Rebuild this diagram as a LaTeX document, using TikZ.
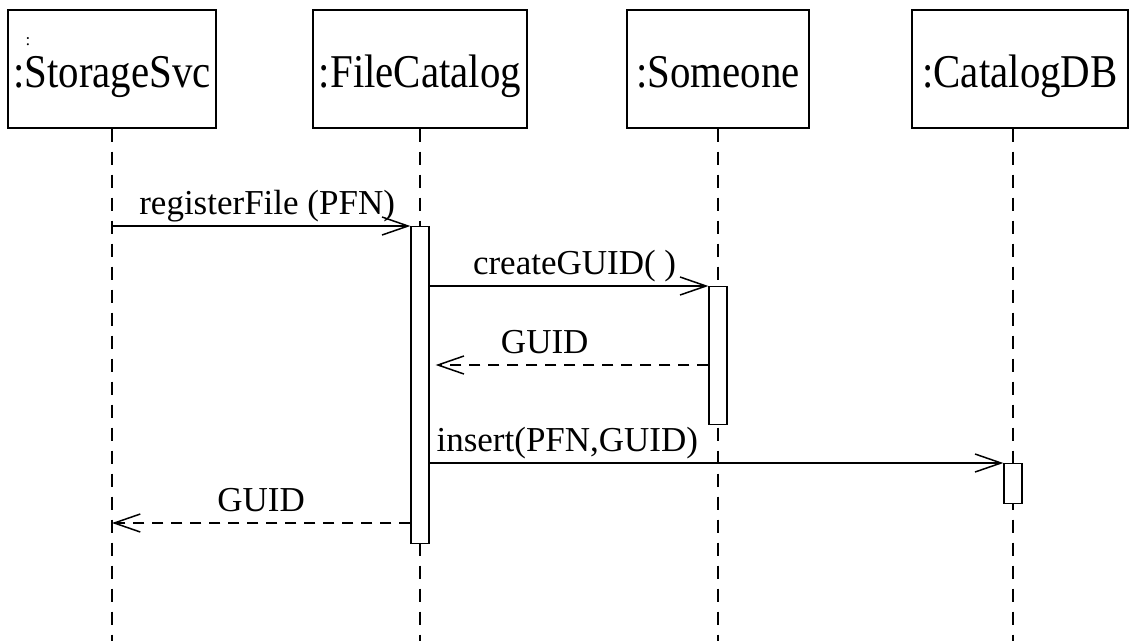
\documentclass[tikz,border=0pt]{standalone}
\usepackage{fontspec}
\setmainfont{Liberation Serif}
\newfontfamily\titlefont[FakeStretch=0.87]{Liberation Serif}
\usetikzlibrary{arrows.meta,positioning}

\tikzset{
  object/.style={draw, line width=1.3pt, inner sep=0pt, minimum height=118pt,
    text height=36pt, text depth=0pt, font=\titlefont\fontsize{47}{52}\selectfont},
  lifeline/.style={line width=1.1pt, dash pattern=on 13pt off 10pt},
  activation/.style={draw, line width=1.3pt, fill=white, minimum width=18pt, inner sep=0pt},
  call/.style={line width=1.2pt, -{Straight Barb[length=26pt,width=18pt,line width=1.5pt]}},
  reply/.style={call, dash pattern=on 11pt off 8pt},
  msg/.style={font=\fontsize{35}{40}\selectfont, above, inner sep=2pt, text depth=9pt},
}

\begin{document}
\begin{tikzpicture}[x=1pt,y=-1pt]
\useasboundingbox (0,0) rectangle (1131,641);

% objects
\node[object, minimum width=208pt] (storage) at (112,69) {:StorageSvc};
\node[object, minimum width=214pt] (catalog) at (420,69) {:FileCatalog};
\node[object, minimum width=182pt] (someone) at (718,69) {:Someone};
\node[object, minimum width=216pt] (catalogdb) at (1020,69) {:CatalogDB};
\node[font=\fontsize{17}{17}\selectfont, inner sep=0pt] (mark) at (28,42) {:};

% lifelines
\draw[lifeline] (storage.south) -- (storage.south |- 0,641);
\draw[lifeline] (catalog.south) -- (catalog.south |- 0,641);
\draw[lifeline] (someone.south) -- (someone.south |- 0,641);
\draw[lifeline] ([xshift=-7pt]catalogdb.south) -- ([xshift=-7pt]catalogdb.south |- 0,641);

% activations
\node[activation, minimum height=317pt, anchor=north] (catalog act) at (420,226) {};
\node[activation, minimum height=138pt, anchor=north] (someone act) at (718,286) {};
\node[activation, minimum height=40pt, anchor=north] (db act) at (1013,463) {};

% messages
\draw[call] (storage.south |- catalog act.north) -- (catalog act.north west)
  node[msg, pos=0.52] {registerFile (PFN)};
\draw[call] (catalog act.east |- someone act.north) -- (someone act.north west)
  node[msg, pos=0.52] {createGUID( )};
\draw[reply] (someone act.west |- 0,365) -- ([xshift=6pt]catalog act.east |- 0,365)
  node[msg, pos=0.6] {GUID};
\draw[call] (catalog act.east |- db act.north) -- (db act.north west)
  node[msg, pos=0.24] {insert(PFN,GUID)};
\draw[reply] (catalog act.west |- 0,523) -- (storage.south |- 0,523)
  node[msg, pos=0.5] {GUID};
\end{tikzpicture}
\end{document}
